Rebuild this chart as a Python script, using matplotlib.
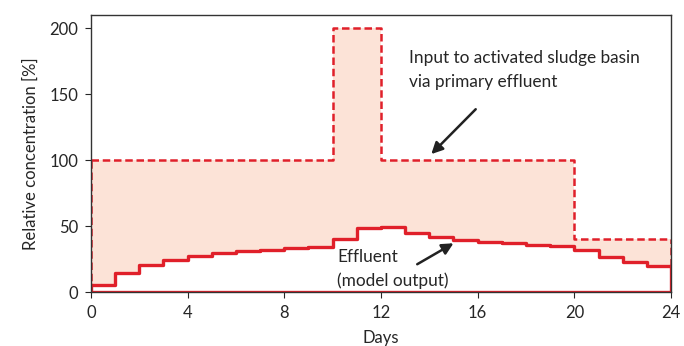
import numpy as np
from matplotlib import pyplot as plt

plt.rcParams['font.family'] = ['Lato', 'DejaVu Sans']

# day boundaries and step values
days = np.arange(0, 25)
input_conc = [100] * 10 + [200] * 2 + [100] * 8 + [40] * 4
effluent = [5.5, 14.5, 20.5, 24.5, 27.5, 29.5, 31, 32, 33, 33.8, 40, 48.5,
            49.2, 45, 41.5, 39.2, 38, 37, 36, 35, 32, 26.5, 22.5, 19.5]

red = '#E0202A'
fill_col = '#FCE3D7'
txt = '#262626'

fig = plt.figure(figsize=(6.84, 3.46), dpi=100)
ax = fig.add_axes([0.133, 0.156, 0.848, 0.801])

inp = np.append(input_conc, input_conc[-1])
eff = np.append(effluent, effluent[-1])

ax.fill_between(days, eff, inp, step='post', color=fill_col, lw=0)

# input (dashed)
ax.step(days, inp, where='post', color=red, lw=1.8, ls=(0, (3, 1.5)))
ax.plot([0, 0], [0, input_conc[0]], color=red, lw=1.8, ls=(0, (3, 1.5)))
ax.plot([24, 24], [effluent[-1], input_conc[-1]], color=red, lw=1.8, ls=(0, (3, 1.5)))

# effluent (solid)
ax.step(days, eff, where='post', color=red, lw=2.4)
ax.plot([0, 0], [0, effluent[0]], color=red, lw=2.4)
ax.plot([24, 24], [0, effluent[-1]], color=red, lw=2.4)
ax.plot([0, 24], [0, 0], color=red, lw=2.4)

ax.set_xlim(0, 24)
ax.set_ylim(0, 210)
ax.set_xticks(range(0, 25, 4))
ax.set_yticks(range(0, 201, 50))
ax.tick_params(labelsize=12, colors=txt, length=4, pad=5)
ax.set_xlabel('Days', fontsize=12, color=txt, labelpad=7)
ax.set_ylabel('Relative concentration [%]', fontsize=12, color=txt, labelpad=8)
for s in ax.spines.values():
    s.set_color('#333333')
    s.set_linewidth(1)

ax.text(13.15, 168, 'Input to activated sludge basin\nvia primary effluent',
        fontsize=12.4, color=txt, va='center', linespacing=1.6)
ax.annotate('', xy=(14.0, 103), xytext=(16.0, 140),
            arrowprops=dict(arrowstyle='-|>', color='#222222', lw=1.8,
                            mutation_scale=17))

ax.text(10.2, 17.5, 'Effluent\n(model output)', fontsize=12.4,
        color=txt, va='center', linespacing=1.6)
ax.annotate('', xy=(15.1, 38), xytext=(13.4, 20),
            arrowprops=dict(arrowstyle='-|>', color='#222222', lw=1.8,
                            mutation_scale=17))

fig.savefig('out.png', dpi=100)
